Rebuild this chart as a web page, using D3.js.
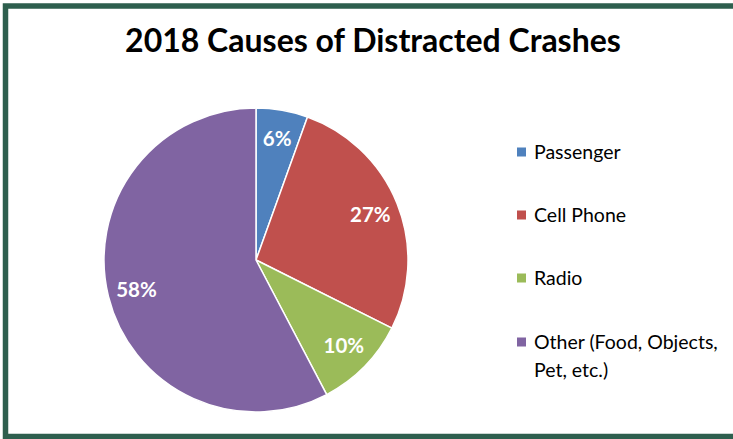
<!DOCTYPE html>
<html>
<head>
<meta charset="utf-8">
<script src="https://cdn.jsdelivr.net/npm/d3@7"></script>
<style>
html,body{margin:0;padding:0;background:#fff;}
svg{display:block;}
</style>
</head>
<body>
<svg id="chart" width="733" height="439"></svg>
<script>
const title = "2018 Causes of Distracted Crashes";
const categories = ["Passenger", "Cell Phone", "Radio", "Other (Food, Objects, Pet, etc.)"];
const values = [5.5, 26.9, 9.9, 57.7];
const valueLabels = ["6%", "27%", "10%", "58%"];
const colors = ["#4f81bd", "#c0504d", "#9bbb59", "#8064a2"];
const legendLines = [["Passenger"], ["Cell Phone"], ["Radio"], ["Other (Food, Objects,", "Pet, etc.)"]];

const svg = d3.select("#chart");
const W = 733, H = 439;
const font = "Lato, 'Open Sans', sans-serif";

// frame
svg.append("rect").attr("x", 0).attr("y", 0).attr("width", W).attr("height", H).attr("fill", "#fff");
svg.append("path")
  .attr("d", `M${W},6 L5.5,6 L5.5,436.5 L${W},436.5`)
  .attr("fill", "none").attr("stroke", "#2e5f4e").attr("stroke-width", 5.5);

svg.append("text")
  .attr("x", 373).attr("y", 52)
  .attr("text-anchor", "middle")
  .attr("font-family", font).attr("font-weight", "bold")
  .attr("font-size", 32).attr("fill", "#000")
  .text(title);

const cx = 256, cy = 260, r = 152;
const pie = d3.pie().sort(null).value(d => d);
const arcs = pie(values);
const arc = d3.arc().innerRadius(0).outerRadius(r);
const labelArc = d3.arc().innerRadius(r * 0.62).outerRadius(r);

const g = svg.append("g").attr("transform", `translate(${cx},${cy})`);
g.selectAll("path.slice").data(arcs).join("path")
  .attr("class", "slice")
  .attr("d", arc)
  .attr("fill", (d, i) => colors[i])
  .attr("stroke", "#fff").attr("stroke-width", 1.5).attr("stroke-linejoin", "round");

g.selectAll("text.lbl").data(arcs).join("text")
  .attr("class", "lbl")
  .attr("transform", d => `translate(${labelArc.centroid(d)})`)
  .attr("text-anchor", "middle").attr("dy", "0.35em")
  .attr("font-family", font).attr("font-weight", "bold")
  .attr("font-size", 20.5).attr("fill", "#fff")
  .text((d, i) => valueLabels[i]);

// legend
const legendY = [152, 215, 278, 342];
const lg = svg.append("g");
categories.forEach((c, i) => {
  lg.append("rect").attr("x", 517).attr("y", legendY[i] - 4.5).attr("width", 9).attr("height", 9).attr("fill", colors[i]);
  const t = lg.append("text").attr("x", 534).attr("y", legendY[i])
    .attr("font-family", font).attr("font-size", 19.5).attr("fill", "#000");
  legendLines[i].forEach((line, j) => {
    t.append("tspan").attr("x", 534).attr("dy", j === 0 ? "0.35em" : 28).text(line);
  });
});
</script>
</body>
</html>
